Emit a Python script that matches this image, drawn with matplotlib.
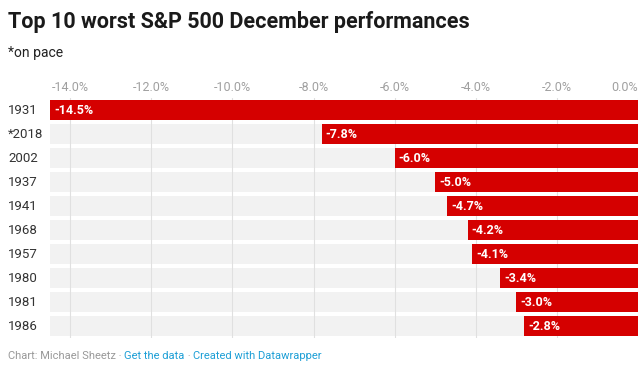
import matplotlib.pyplot as plt
import matplotlib.transforms as mtransforms

years = ["1931", "*2018", "2002", "1937", "1941", "1968", "1957", "1980", "1981", "1986"]
values = [-14.5, -7.8, -6.0, -5.0, -4.7, -4.2, -4.1, -3.4, -3.0, -2.8]
ticks = [-14, -12, -10, -8, -6, -4, -2, 0]

RED = "#d50000"
W, H = 643, 376
plt.rcParams['font.family'] = ['Roboto', 'DejaVu Sans']

fig = plt.figure(figsize=(W / 100, H / 100), dpi=100)
ax = fig.add_axes([50 / W, 1 - 338 / H, 588 / W, 240 / H])

ypos = list(range(len(years)))
ax.barh(ypos, [-14.5] * len(years), height=20 / 24, color="#f2f2f2", zorder=1)
ax.barh(ypos, values, height=20 / 24, color=RED, zorder=3)
for t in ticks:
    ax.axvline(t, color="#e0e0e0", lw=0.8, zorder=2)

ax.set_xlim(-14.5, 0)
ax.set_ylim(9.5, -0.5)
ax.set_xticks(ticks)
ax.set_xticklabels([f"{t:.1f}%" for t in ticks])
ax.xaxis.tick_top()
ax.tick_params(axis="x", length=0, pad=3, labelsize=9, labelcolor="#a0a0a0")
ax.get_xticklabels()[-1].set_horizontalalignment("right")
ax.set_yticks([])
for s in ax.spines.values():
    s.set_visible(False)

for y, v in zip(ypos, values):
    ax.annotate(f"{v:.1f}%", (v, y), xytext=(3, 0), textcoords="offset points",
                ha="left", va="center", color="white", fontsize=9, fontweight="bold", zorder=4)

trans = mtransforms.blended_transform_factory(fig.transFigure, ax.transData)
for y, yr in zip(ypos, years):
    ax.text(8 / W, y, yr, transform=trans, ha="left", va="center", fontsize=9.5, color="#333333")

fig.text(8 / W, 1 - 22 / H, "Top 10 worst S&P 500 December performances", fontsize=15.5,
         fontweight="bold", color="#1a1a1a", va="center")
fig.text(8 / W, 1 - 53 / H, "*on pace", fontsize=10, color="#222222", va="center")

fs = 8
ft = fig.text(8 / W, 1 - 356 / H, "Chart: Michael Sheetz \u00b7 ", fontsize=fs, color="#999999", va="center")
fig.canvas.draw()
r = fig.canvas.get_renderer()
x1 = ft.get_window_extent(r).x1
ft2 = fig.text(x1 / W, 1 - 356 / H, "Get the data", fontsize=fs, color="#1d9fd6", va="center")
x2 = ft2.get_window_extent(r).x1
ft3 = fig.text(x2 / W, 1 - 356 / H, " \u00b7 ", fontsize=fs, color="#999999", va="center")
x3 = ft3.get_window_extent(r).x1
fig.text(x3 / W, 1 - 356 / H, "Created with Datawrapper", fontsize=fs, color="#1d9fd6", va="center")

fig.savefig("out.png", dpi=100)
